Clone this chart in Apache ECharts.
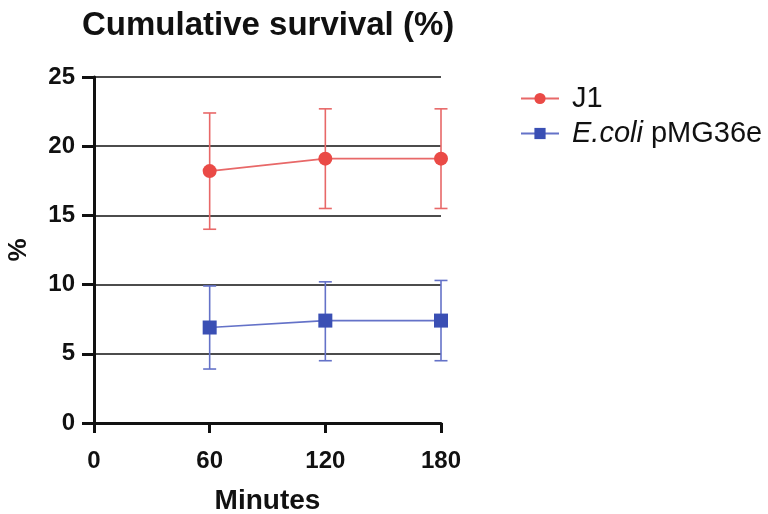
<!DOCTYPE html>
<html><head><meta charset="utf-8">
<script src="https://cdn.jsdelivr.net/npm/echarts@6/dist/echarts.min.js"></script>
<style>html,body{margin:0;padding:0;background:#fff}#c{width:768px;height:514px}</style>
</head><body><div id="c"></div>
<script>
const minutes = [60, 120, 180];
const j1Mean = [18.2, 19.1, 19.1];
const j1Low = [14.0, 15.5, 15.5];
const j1High = [22.4, 22.7, 22.7];
const ecMean = [6.9, 7.4, 7.4];
const ecLow = [3.9, 4.5, 4.5];
const ecHigh = [9.9, 10.2, 10.3];
const yTicks = [0, 5, 10, 15, 20, 25];
const xTicks = [0, 60, 120, 180];

const RED = '#ea4a46', RED_L = '#e86868';
const BLUE = '#3a4fb4', BLUE_L = '#6472c8';
const FONT = 'Liberation Sans';

function errSeries(low, high, color) {
  return {
    type: 'custom', silent: true, z: 1,
    data: minutes.map((m, i) => [m, low[i], high[i]]),
    renderItem: function (params, api) {
      const x = api.value(0);
      const lo = api.coord([x, api.value(1)]);
      const hi = api.coord([x, api.value(2)]);
      const w = 6.5;
      const st = { stroke: color, lineWidth: 1.6 };
      return { type: 'group', children: [
        { type: 'line', shape: { x1: lo[0], y1: lo[1], x2: hi[0], y2: hi[1] }, style: st },
        { type: 'line', shape: { x1: lo[0]-w, y1: lo[1], x2: lo[0]+w, y2: lo[1] }, style: st },
        { type: 'line', shape: { x1: hi[0]-w, y1: hi[1], x2: hi[0]+w, y2: hi[1] }, style: st }
      ]};
    }
  };
}

const chart = echarts.init(document.getElementById('c'));
chart.setOption({
  animation: false,
  backgroundColor: '#fff',
  title: { text: 'Cumulative survival (%)', left: 77, top: 4,
    textStyle: { fontFamily: FONT, fontSize: 33, fontWeight: 'bold', color: '#111' } },
  legend: {
    orient: 'vertical', left: 515, top: 79, itemGap: 6,
    itemWidth: 38, itemHeight: 14,
    data: ['J1', 'E.coli pMG36e'],
    formatter: function (n) { return n === 'E.coli pMG36e' ? '{i|E.coli} pMG36e' : n; },
    textStyle: { fontFamily: FONT, fontSize: 29, color: '#111', padding: [0,0,0,8],
      rich: { i: { fontFamily: FONT, fontSize: 29, fontStyle: 'italic', color: '#111' } } }
  },
  grid: { left: 94, right: 327, top: 77, bottom: 91, containLabel: false, outerBoundsMode: 'none' },
  xAxis: {
    type: 'value', min: 0, max: 180, interval: 60,
    name: 'Minutes', nameLocation: 'middle', nameGap: 64,
    nameTextStyle: { fontFamily: FONT, fontSize: 28, fontWeight: 'bold', color: '#111' },
    axisLine: { lineStyle: { color: '#111', width: 3 } },
    axisTick: { length: 10, lineStyle: { color: '#111', width: 3 } },
    axisLabel: { fontFamily: FONT, fontSize: 24, fontWeight: 'bold', color: '#111', margin: 26,
      formatter: v => xTicks.includes(v) ? String(v) : '' },
    splitLine: { show: false }
  },
  yAxis: {
    type: 'value', min: 0, max: 25, interval: 5,
    name: '%', nameLocation: 'middle', nameGap: 62, nameRotate: 90,
    nameTextStyle: { fontFamily: FONT, fontSize: 26, fontWeight: 'bold', color: '#111' },
    axisLine: { show: true, lineStyle: { color: '#111', width: 3 } },
    axisTick: { show: true, length: 12, lineStyle: { color: '#111', width: 3 } },
    axisLabel: { fontFamily: FONT, fontSize: 24, fontWeight: 'bold', color: '#111', margin: 19,
      formatter: v => yTicks.includes(v) ? String(v) : '' },
    splitLine: { show: true, lineStyle: { color: '#111', width: 1.5 } }
  },
  series: [
    errSeries(j1Low, j1High, RED_L),
    errSeries(ecLow, ecHigh, BLUE_L),
    { name: 'J1', type: 'line', z: 3, data: minutes.map((m, i) => [m, j1Mean[i]]),
      symbol: 'circle', symbolSize: 14,
      itemStyle: { color: RED }, lineStyle: { color: RED_L, width: 1.6 } },
    { name: 'E.coli pMG36e', type: 'line', z: 3, data: minutes.map((m, i) => [m, ecMean[i]]),
      symbol: 'rect', symbolSize: 14,
      itemStyle: { color: BLUE }, lineStyle: { color: BLUE_L, width: 1.6 } }
  ]
});
</script></body></html>
